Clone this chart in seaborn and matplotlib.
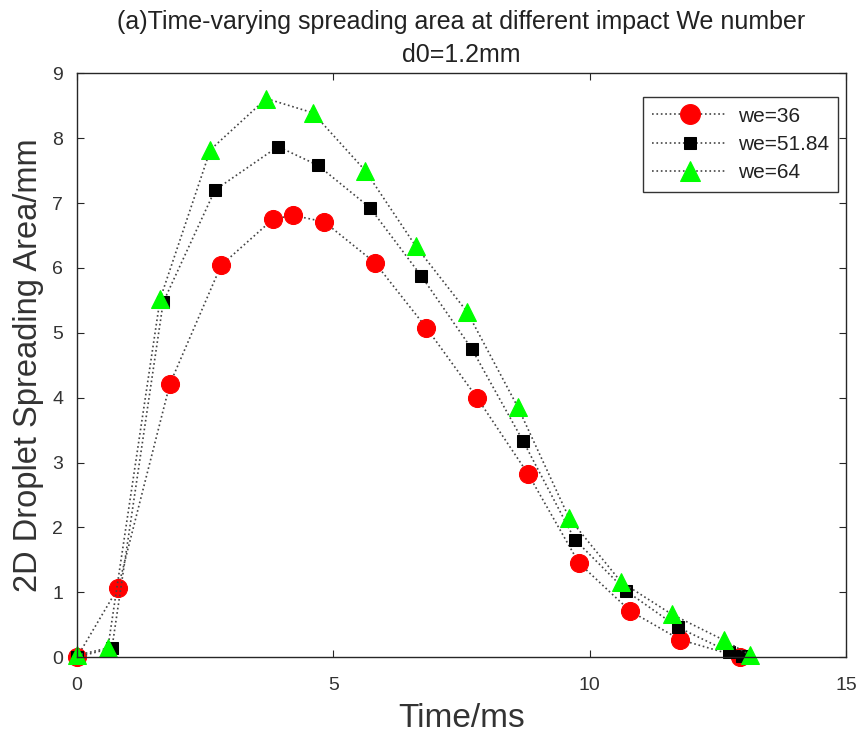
import pandas as pd
import matplotlib
matplotlib.use('Agg')
import matplotlib.pyplot as plt
import seaborn as sns

# values
t_we36 = [0, 0.80, 1.81, 2.81, 3.82, 4.21, 4.82, 5.81, 6.81, 7.80, 8.80, 9.79, 10.79, 11.76, 12.93]
a_we36 = [0, 1.07, 4.21, 6.04, 6.75, 6.81, 6.71, 6.08, 5.08, 4.00, 2.82, 1.45, 0.71, 0.27, 0.0]

t_we52 = [0, 0.68, 1.68, 2.69, 3.92, 4.70, 5.71, 6.71, 7.70, 8.70, 9.71, 10.71, 11.72, 12.72, 12.97]
a_we52 = [0, 0.14, 5.47, 7.20, 7.87, 7.58, 6.93, 5.88, 4.75, 3.33, 1.81, 1.02, 0.46, 0.08, 0.02]

t_we64 = [0, 0.60, 1.62, 2.60, 3.69, 4.60, 5.62, 6.61, 7.61, 8.60, 9.60, 10.61, 11.60, 12.62, 13.13]
a_we64 = [0.03, 0.14, 5.52, 7.82, 8.61, 8.39, 7.50, 6.33, 5.32, 3.85, 2.14, 1.16, 0.66, 0.26, 0.03]

labels = ['we=36', 'we=51.84', 'we=64']

sns.set_style('ticks')
plt.rcParams['font.family'] = ['Liberation Sans', 'DejaVu Sans']

fig = plt.figure(figsize=(8.66, 7.4), dpi=100)
ax = fig.add_axes([0.089, 0.112, 0.888, 0.789])

series = [
    (t_we36, a_we36, 'o', 'red', 13),
    (t_we52, a_we52, 's', 'black', 8.5),
    (t_we64, a_we64, '^', '#00ff00', 12.5),
]
for (t, a, mk, col, ms), lab in zip(series, labels):
    df = pd.DataFrame({'Time': t, 'Area': a})
    sns.lineplot(data=df, x='Time', y='Area', ax=ax, sort=False, color='#444444',
                 linestyle=':', linewidth=1.2, marker=mk, markersize=ms,
                 markerfacecolor=col, markeredgecolor=col, label=lab, clip_on=False)

ax.set_xlim(0, 15)
ax.set_ylim(0, 9)
ax.set_xticks([0, 5, 10, 15])
ax.set_yticks(range(10))
ax.tick_params(direction='in', labelsize=14, length=5, top=True, right=True,
               labeltop=False, labelright=False, labelcolor='#333333')
ax.tick_params(axis='x', pad=14)
ax.tick_params(axis='y', pad=10)
for s in ax.spines.values():
    s.set_visible(True)
    s.set_linewidth(1.0)
    s.set_color('#262626')

ax.set_xlabel('Time/ms', fontsize=24, labelpad=7, color='#333333')
ax.set_ylabel('2D Droplet Spreading Area/mm', fontsize=23.5, labelpad=6, color='#333333')
ax.set_title('(a)Time-varying spreading area at different impact We number\nd0=1.2mm',
             fontsize=18, linespacing=1.5, pad=8, color='#222222')

leg = ax.legend(loc='upper right', bbox_to_anchor=(0.9896, 0.959), borderaxespad=0,
                fontsize=15, frameon=True, fancybox=False, edgecolor='black',
                handlelength=3.6, labelspacing=0.45, handletextpad=0.5,
                borderpad=0.45, labelcolor='#222222', markerscale=1.1)
leg.get_frame().set_linewidth(1.0)

fig.savefig('out.png', dpi=100)
